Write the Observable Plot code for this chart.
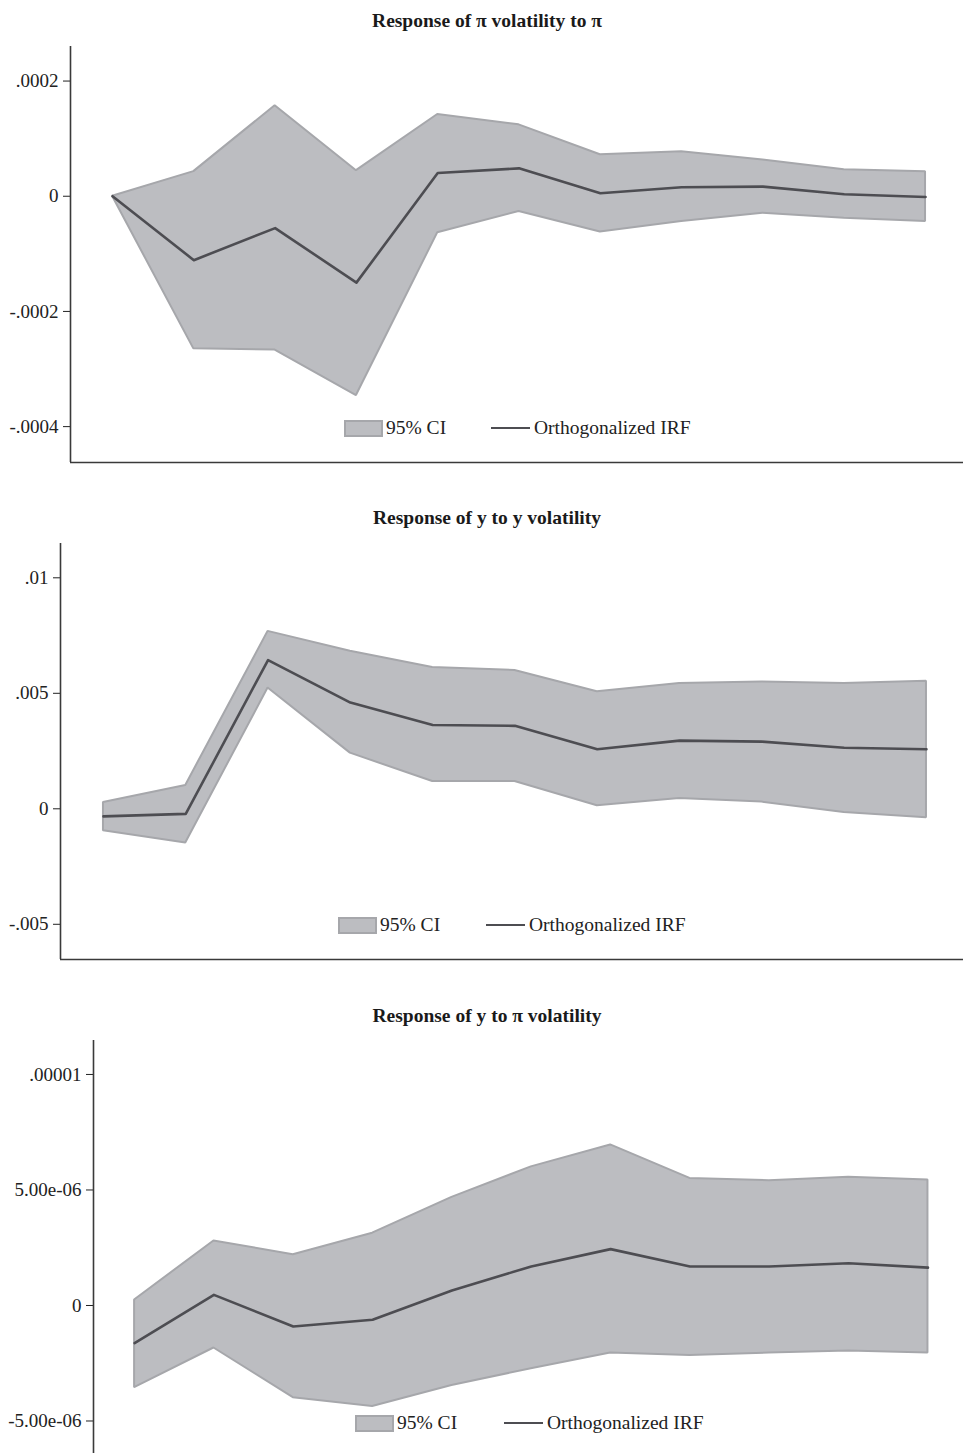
<!DOCTYPE html>
<html>
<head>
<meta charset="utf-8">
<script src="https://cdn.jsdelivr.net/npm/d3@7"></script>
<script src="https://cdn.jsdelivr.net/npm/@observablehq/plot@0.6"></script>
<style>
html,body{margin:0;padding:0;background:#fff;overflow:hidden;width:963px;height:1453px}
#root{position:relative;width:963px;height:1453px;font-family:"Liberation Serif","Times New Roman",serif;color:#222}
.title{position:absolute;left:0;width:974px;text-align:center;font-weight:bold;font-size:19.5px;line-height:22px;color:#1a1a1a}
.panel{position:absolute;left:0}
.leg{position:absolute;height:20px;display:flex;align-items:center;font-size:19.5px;line-height:20px;color:#222;white-space:nowrap}
.sw{box-sizing:border-box;width:39px;height:17px;background:#bcbdc1;border:2px solid #a6a7ab;margin-right:3px}
.ln{width:39px;height:2.6px;background:#4d4d52;margin-right:4px}
</style>
</head>
<body>
<div id="root"></div>
<script>
// ---- data ----
const steps = [0, 1, 2, 3, 4, 5, 6, 7, 8, 9, 10];

const titles = [
  "Response of \u03c0 volatility to \u03c0",
  "Response of y to y volatility",
  "Response of y to \u03c0 volatility"
];
const legendLabels = ["95% CI", "Orthogonalized IRF"];

// Panel 1: Response of pi volatility to pi
const p1Irf = [0, -0.000111, -0.0000553, -0.000150, 0.0000403, 0.0000484, 0.0000052, 0.0000156, 0.0000167, 0.0000035, -0.0000012];
const p1Hi  = [0, 0.0000427, 0.000157, 0.0000444, 0.000142, 0.000124, 0.000072, 0.0000772, 0.0000628, 0.0000461, 0.0000427];
const p1Lo  = [0, -0.000265, -0.000267, -0.000346, -0.0000634, -0.0000265, -0.0000622, -0.0000438, -0.0000294, -0.000038, -0.0000438];
const p1Ticks = [0.0002, 0, -0.0002, -0.0004];
const p1TickLabels = [".0002", "0", "-.0002", "-.0004"];

// Panel 2: Response of y to y volatility
const p2Irf = [-0.00033, -0.00022, 0.00644, 0.0046, 0.00363, 0.00359, 0.00258, 0.00295, 0.00291, 0.00264, 0.00258];
const p2Hi  = [0.00027, 0.00101, 0.00768, 0.00682, 0.00612, 0.00599, 0.00507, 0.00542, 0.00549, 0.00542, 0.00552];
const p2Lo  = [-0.00095, -0.00148, 0.00523, 0.00241, 0.00118, 0.00118, 0.00013, 0.00045, 0.00029, -0.00016, -0.00039];
const p2Ticks = [0.01, 0.005, 0, -0.005];
const p2TickLabels = [".01", ".005", "0", "-.005"];

// Panel 3: Response of y to pi volatility
const p3Irf = [-1.63e-6, 0.46e-6, -0.91e-6, -0.62e-6, 0.65e-6, 1.69e-6, 2.44e-6, 1.69e-6, 1.69e-6, 1.83e-6, 1.64e-6];
const p3Hi  = [0.24e-6, 2.79e-6, 2.2e-6, 3.13e-6, 4.68e-6, 6.0e-6, 6.95e-6, 5.5e-6, 5.4e-6, 5.55e-6, 5.43e-6];
const p3Lo  = [-3.56e-6, -1.84e-6, -3.99e-6, -4.37e-6, -3.46e-6, -2.74e-6, -2.06e-6, -2.16e-6, -2.06e-6, -1.97e-6, -2.06e-6];
const p3Ticks = [0.00001, 0.000005, 0, -0.000005];
const p3TickLabels = [".00001", "5.00e-06", "0", "-5.00e-06"];

// ---- layout ----
const panels = [
  {irf: p1Irf, hi: p1Hi, lo: p1Lo, ticks: p1Ticks, labels: p1TickLabels,
   top: 0, height: 470, mt: 46, mb: 8, ml: 70, xd: [-0.517, 10.467], yd: [-0.0004623, 0.00026],
   titleY: 21, leg: {swL: 344, swY: 428, lnL: 491}},
  {irf: p2Irf, hi: p2Hi, lo: p2Lo, ticks: p2Ticks, labels: p2TickLabels,
   top: 490, height: 479, mt: 53, mb: 10, ml: 60, xd: [-0.522, 10.45], yd: [-0.006524, 0.011485],
   titleY: 518, leg: {swL: 338, swY: 925, lnL: 486}},
  {irf: p3Irf, hi: p3Hi, lo: p3Lo, ticks: p3Ticks, labels: p3TickLabels,
   top: 990, height: 472, mt: 50, mb: 5, ml: 93, xd: [-0.518, 10.448], yd: [-6.58e-6, 1.147e-5],
   titleY: 1016, leg: {swL: 355, swY: 1423, lnL: 504}}
];

const root = document.getElementById("root");

panels.forEach((p, k) => {
  const data = steps.map((s, i) => ({step: s, irf: p.irf[i], hi: p.hi[i], lo: p.lo[i]}));
  const chart = Plot.plot({
    width: 963,
    height: p.height,
    marginLeft: p.ml,
    marginRight: 0,
    marginTop: p.mt,
    marginBottom: p.mb,
    style: {fontFamily: '"Liberation Serif","Times New Roman",serif', fontSize: "19px", color: "#222", background: "transparent", overflow: "visible"},
    x: {domain: p.xd, axis: null},
    y: {
      domain: p.yd,
      ticks: p.ticks,
      tickFormat: d => p.labels[p.ticks.indexOf(d)],
      tickSize: 7,
      tickPadding: 5,
      label: null
    },
    marks: [
      Plot.areaY(data, {x: "step", y1: "lo", y2: "hi", fill: "#bcbdc1", stroke: "#a6a7ab", strokeWidth: 2, strokeLinejoin: "miter"}),
      Plot.line(data, {x: "step", y: "irf", stroke: "#4d4d52", strokeWidth: 2.6}),
      Plot.ruleX([p.xd[0]], {stroke: "#3a3a3a", strokeWidth: 1.6}),
      Plot.ruleY([p.yd[0]], {stroke: "#3a3a3a", strokeWidth: 1.6})
    ]
  });
  const wrap = document.createElement("div");
  wrap.className = "panel";
  wrap.style.top = p.top + "px";
  wrap.appendChild(chart);
  root.appendChild(wrap);

  const t = document.createElement("div");
  t.className = "title";
  t.style.top = (p.titleY - 11) + "px";
  t.textContent = titles[k];
  root.appendChild(t);

  const l1 = document.createElement("div");
  l1.className = "leg";
  l1.style.left = p.leg.swL + "px";
  l1.style.top = (p.leg.swY - 10) + "px";
  l1.innerHTML = '<div class="sw"></div><span></span>';
  l1.querySelector("span").textContent = legendLabels[0];
  root.appendChild(l1);

  const l2 = document.createElement("div");
  l2.className = "leg";
  l2.style.left = p.leg.lnL + "px";
  l2.style.top = (p.leg.swY - 10) + "px";
  l2.innerHTML = '<div class="ln"></div><span></span>';
  l2.querySelector("span").textContent = legendLabels[1];
  root.appendChild(l2);
});
</script>
</body>
</html>
